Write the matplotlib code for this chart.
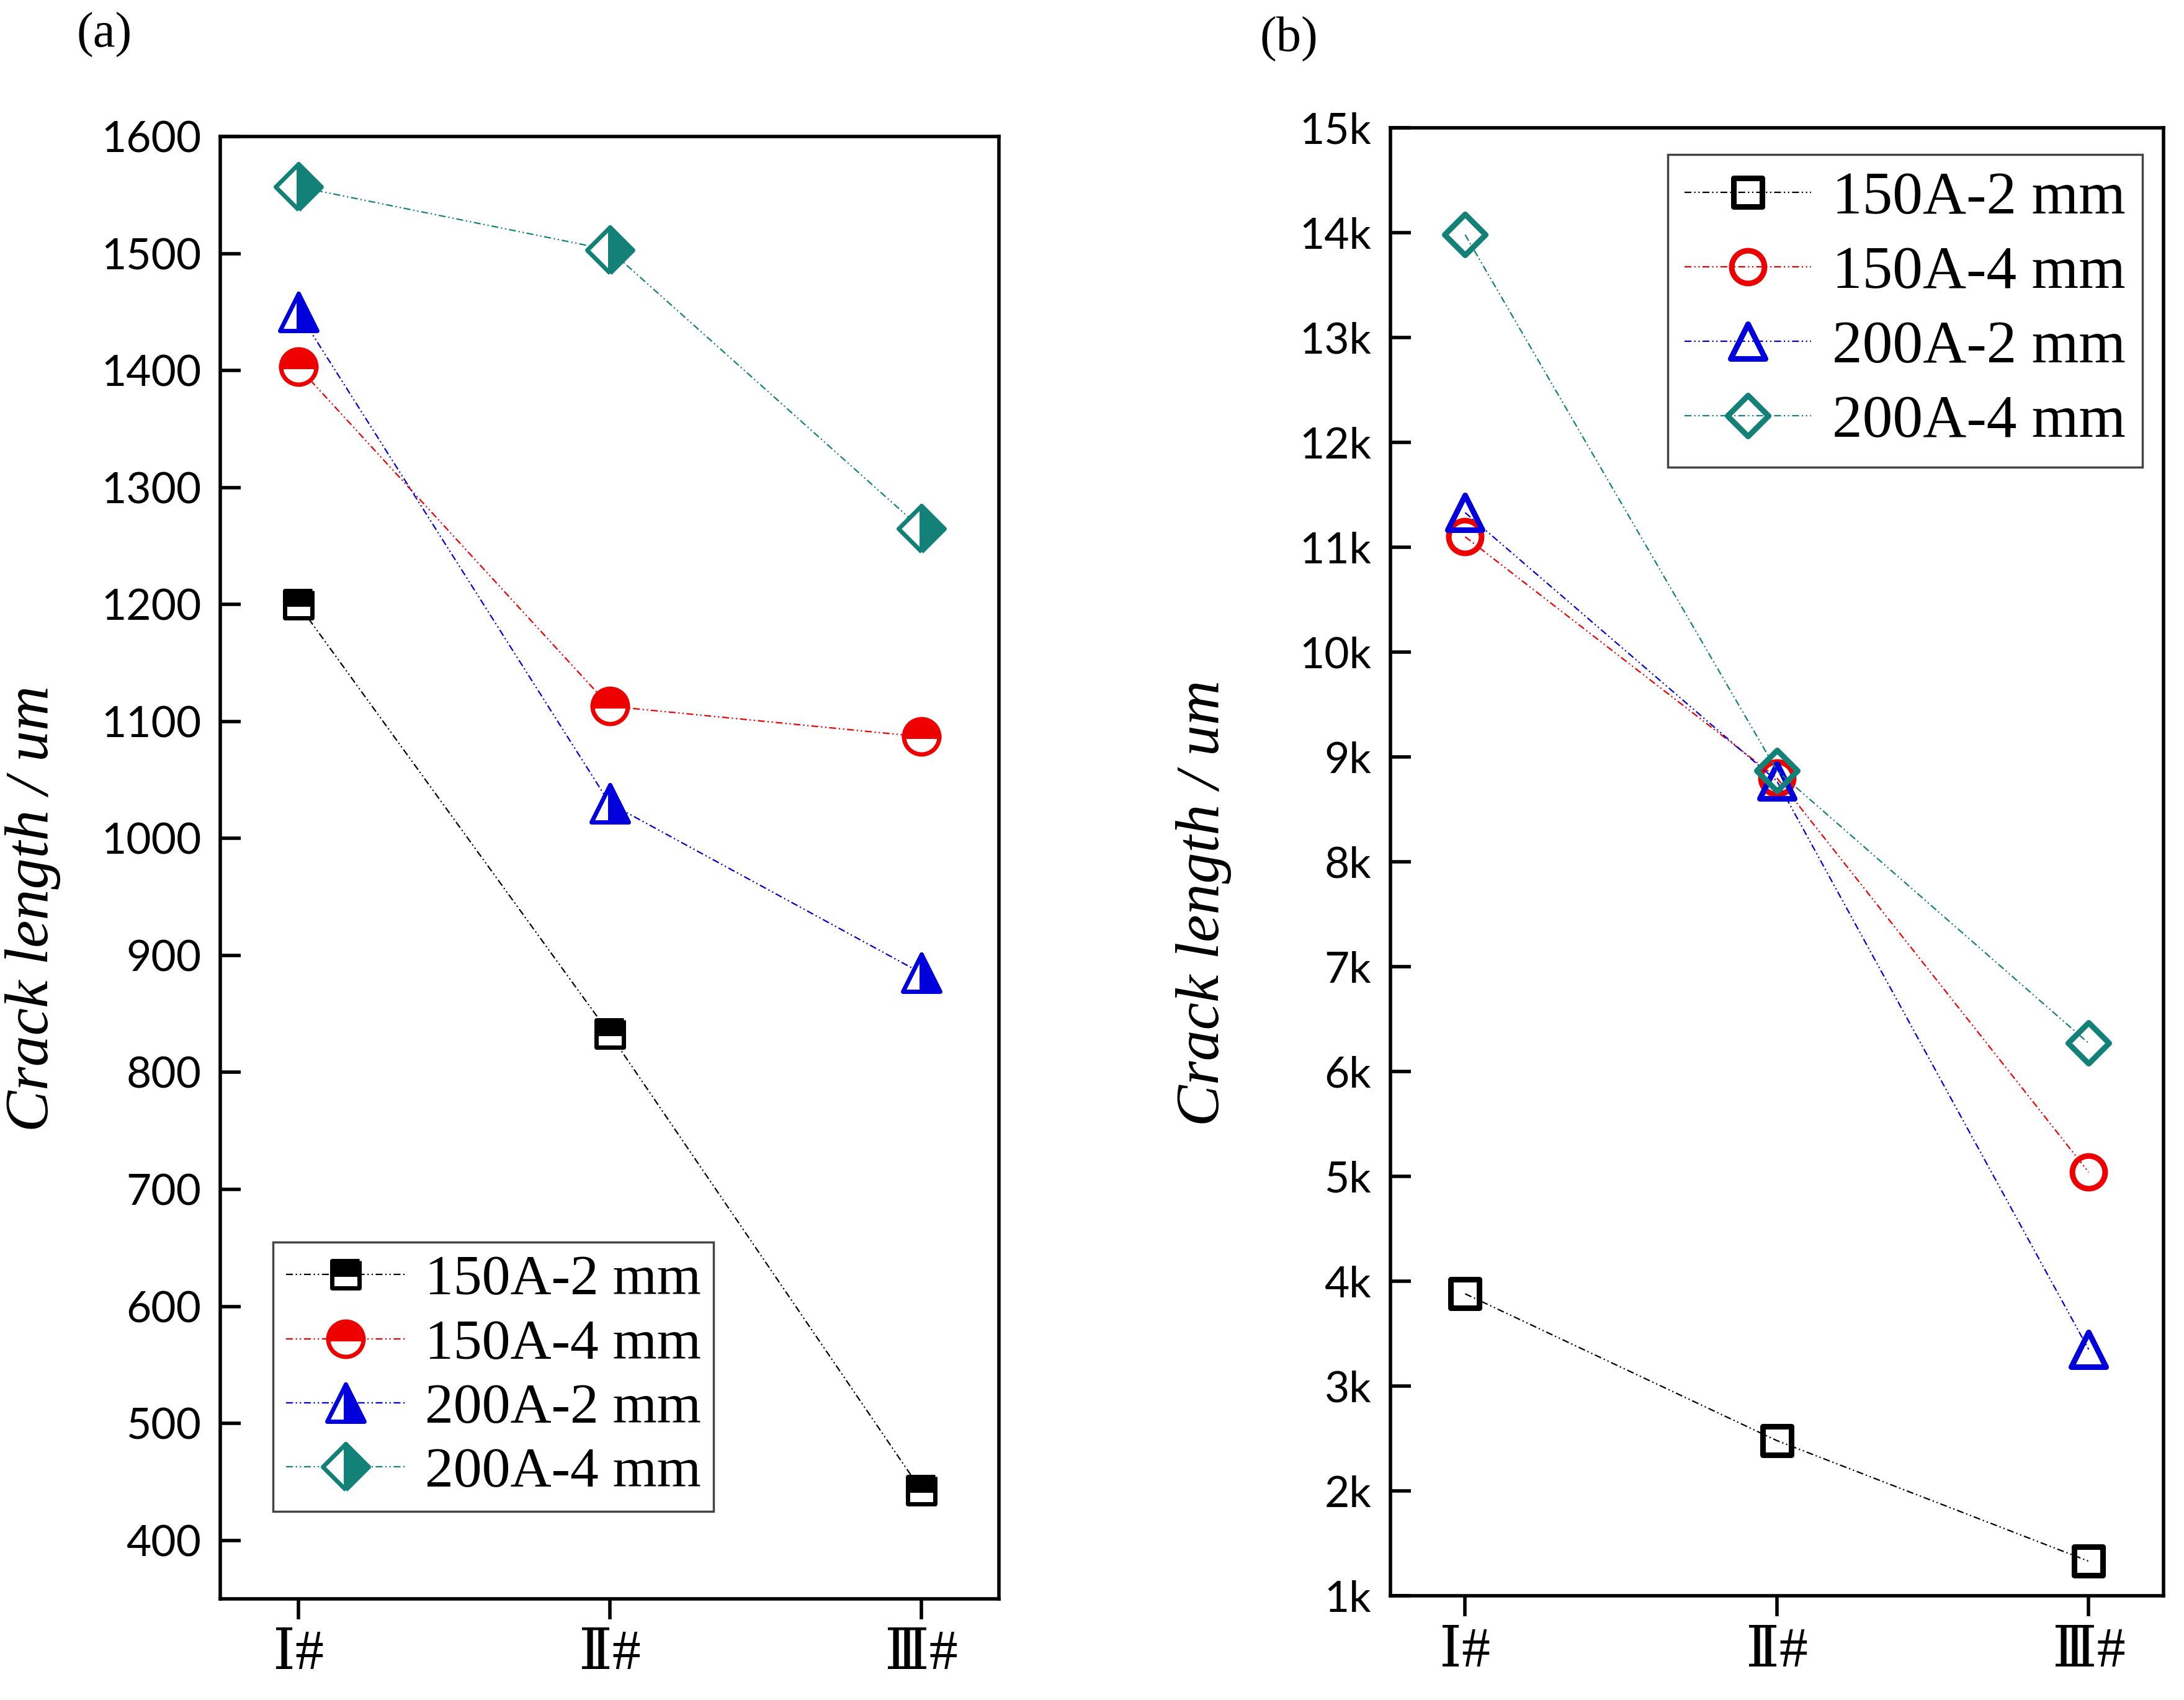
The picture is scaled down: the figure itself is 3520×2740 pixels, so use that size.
import matplotlib
matplotlib.use("Agg")
import matplotlib.pyplot as plt
from matplotlib.markers import MarkerStyle
import numpy as np

# sample groups on the x axis
samples = ["Ⅰ#", "Ⅱ#", "Ⅲ#"]
series = ["150A-2 mm", "150A-4 mm", "200A-2 mm", "200A-4 mm"]

# (a) crack length, um
a_150_2 = [1200, 833, 443]
a_150_4 = [1403, 1113, 1087]
a_200_2 = [1450, 1030, 885]
a_200_4 = [1557, 1503, 1265]

# (b) crack length, um
b_150_2 = [3880, 2480, 1330]
b_150_4 = [11100, 8800, 5040]
b_200_2 = [11330, 8770, 3350]
b_200_4 = [13980, 8870, 6270]

colors = ["black", "#ee0000", "#0000dd", "#138177"]
markers = ["s", "o", "^", "D"]
ms_a = [32, 41, 43, 38]
ms_b = [33, 38, 40, 34]
fill_a = ["top", "top", "right", "right"]

sans = ["Lato", "DejaVu Sans"]
serif = ["Liberation Serif", "DejaVu Serif", "Noto Sans CJK SC"]
dash = (0, (5, 2, 1, 2, 1, 2))

fig = plt.figure(figsize=(35.2, 27.4), dpi=100)
ax_a = fig.add_axes([0.1009, 0.0595, 0.3565, 0.8602])
ax_b = fig.add_axes([0.6366, 0.0613, 0.3540, 0.8635])

x = np.arange(len(samples))

for i, vals in enumerate([a_150_2, a_150_4, a_200_2, a_200_4]):
    mk = MarkerStyle(markers[i], fillstyle=fill_a[i], joinstyle="round")
    ax_a.plot(x, vals, linestyle=dash, lw=1.6, color=colors[i],
              marker=mk, ms=ms_a[i], mew=5, mec=colors[i],
              mfc=colors[i], markerfacecoloralt="white", label=series[i])

for i, vals in enumerate([b_150_2, b_150_4, b_200_2, b_200_4]):
    mk = MarkerStyle(markers[i], joinstyle="round")
    ax_b.plot(x, vals, linestyle=dash, lw=1.6, color=colors[i],
              marker=mk, ms=ms_b[i], mew=6.5, mec=colors[i],
              mfc="none", label=series[i])

ax_a.set_ylim(350, 1600)
ax_a.set_yticks(np.arange(400, 1601, 100))
ax_b.set_ylim(1000, 15000)
ax_b.set_yticks(np.arange(1000, 15001, 1000))
ax_b.set_yticklabels([f"{v // 1000}k" for v in range(1000, 15001, 1000)])

for ax, xl in [(ax_a, (-0.25, 2.25)), (ax_b, (-0.24, 2.24))]:
    ax.set_xlim(*xl)
    ax.set_xticks(x)
    ax.set_xticklabels(samples, family=serif, fontsize=66)
    for s in ax.spines.values():
        s.set_linewidth(4)
    ax.tick_params(axis="y", direction="in", length=24, width=4,
                   labelsize=50, pad=22)
    ax.tick_params(axis="x", direction="out", length=24, width=4, pad=12)
    for lab in ax.get_yticklabels():
        lab.set_family(sans)
    ax.set_ylabel("Crack length / um", family=serif, style="italic",
                  fontsize=72)
    ax.yaxis.set_label_coords(-0.205, 0.472)

leg_a = ax_a.legend(loc="lower left", bbox_to_anchor=(0.068, 0.06),
                    prop={"family": serif, "size": 66}, handlelength=2.1,
                    labelspacing=0.22, handletextpad=0.35, borderpad=0.22,
                    fancybox=False, framealpha=1, borderaxespad=0)
leg_b = ax_b.legend(loc="upper right", bbox_to_anchor=(0.973, 0.982),
                    prop={"family": serif, "size": 70}, handlelength=2.1,
                    labelspacing=0.32, handletextpad=0.35, borderpad=0.28,
                    fancybox=False, framealpha=1, borderaxespad=0)
for leg in (leg_a, leg_b):
    leg.get_frame().set_edgecolor("#444444")
    leg.get_frame().set_linewidth(2.5)

fig.text(168 / 3520, 1 - 56 / 2740, "(a)", family=serif, fontsize=58,
         ha="center", va="center")
fig.text(2077 / 3520, 1 - 63 / 2740, "(b)", family=serif, fontsize=58,
         ha="center", va="center")

fig.savefig("out.png", dpi=100, facecolor="white")
